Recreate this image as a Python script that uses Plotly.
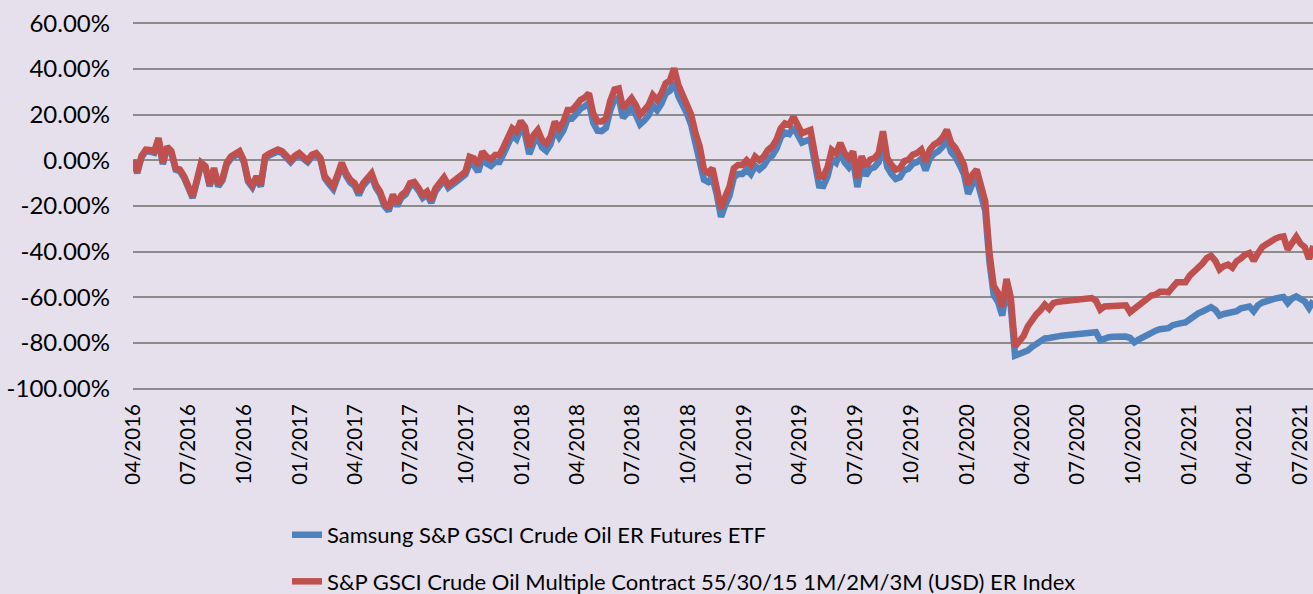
import pandas as pd
import plotly.graph_objects as go

# Weekly observations starting 2016-04-01 (cumulative return, %)
start_date = "2016-04-01"

index_er = [
    0, -5, 2, 4.7, 4.5, 4, 9.8, -1, 6, 4,
    -3.4, -4, -7, -11, -15.8, -8.5, -1, -2.6, -10.7, -3.4,
    -10.7, -8, -1, 1.7, 2.5, 4, 0, -8.5, -11, -7,
    -10.7, 1.7, 3, 4, 4.7, 4, 1.5, 0, 2, 3.2,
    1.5, 0, 2.5, 3.2, 1, -7, -9.2, -11.4, -6.3, -1,
    -5.5, -8.5, -10, -14, -10, -7.5, -5.7, -10.8, -13.7, -18.8,
    -21, -15, -18.8, -15.2, -13.7, -10, -9.5, -12, -15.2, -13.7,
    -17.4, -12.3, -10, -7.5, -10.8, -9, -8, -6.5, -5, 1.6,
    0.9, -2, 3.8, 1.6, 0.5, 2.3, 2.3, 6, 9.6, 14,
    12.6, 17.2, 14.7, 6, 11, 13.3, 8.9, 7.4, 10.4, 16.9,
    14, 16.9, 22, 22, 24, 26.4, 27.5, 29.3, 20.6, 17,
    17, 18.4, 26, 31, 31.5, 22.8, 25, 27.2, 24.2, 20,
    22, 24.2, 28.6, 26.4, 29.3, 33.7, 35, 40.3, 33, 29,
    25, 20, 12, 6, -4.2, -5.5, -3.5, -11, -21, -15.9,
    -11.5, -3.5, -2, -2, 0, -2, 1.6, 0, 1.6, 4.5,
    6, 9, 14, 16.2, 15.5, 19.1, 14.7, 11.8, 12.6, 13.3,
    3, -7, -7.2, -3, 4.5, 3, 7.6, 3.2, 1, 3.9,
    -7.7, 1.8, -2.6, 0.3, 1, 3.2, 12.7, 1, -2, -4.1,
    -3.4, -0.4, 0.3, 2.5, 3.2, 4.7, -0.4, 4.7, 6.9, 8,
    10, 13.4, 7.6, 5.5, 2, -2, -10.7, -6.3, -4.1, -9.9,
    -18, -40.6, -55, -58, -64, -52, -60, -81.5, -79, -77,
    -72.7, -69.5, -67.5, -65.6, -63.2, -65, -62.5, -62, -61.8, -61.7,
    -61.3, -61, -60.8, -60.6, -60.5, -60.3, -61.5, -65.4, -64, -63.8,
    -63.6, -63.3, -63, -63.5, -66.5, -65, -63.5, -62.5, -60.5, -59.2,
    -58.8, -57.6, -57.6, -57.8, -55.5, -53.4, -53.4, -53.4, -50.5, -48.8,
    -47.2, -45.2, -42.8, -41.8, -44, -47.8, -46.3, -45.7, -47, -44.2,
    -43, -41.3, -40.6, -44, -40.8, -38, -36.8, -35.3, -34.4, -33.6,
    -33.3, -39, -36.2, -33.5, -36.5, -38, -43.2, -37.5,
]

etf = [
    0, -5.6, 1.3, 4, 3.8, 3.3, 9.1, -1.7, 5.3, 3.3,
    -4.1, -4.7, -7.7, -11.7, -16.5, -9.2, -1.7, -3.3, -11.4, -4.1,
    -11.4, -8.8, -1.8, 0.9, 1.7, 3.2, -0.8, -9.3, -11.8, -7.8,
    -11.5, 0.9, 2.2, 3.2, 3.9, 3.2, 0.7, -0.8, 1.2, 2.4,
    0.7, -0.8, 1.7, 2.4, 0.2, -7.8, -10.4, -12.6, -7.5, -2.2,
    -6.7, -9.7, -11.2, -15.2, -11.2, -8.7, -6.9, -12, -14.9, -20,
    -22.2, -16.2, -20, -16.4, -14.9, -11.2, -10.7, -13.2, -16.4, -14.9,
    -18.6, -13.5, -11.2, -8.7, -12, -10.2, -9.2, -7.7, -6.2, -1.4,
    -2.1, -5, 0.8, -1.4, -2.5, -0.7, -0.7, 3, 6.6, 11,
    9.3, 13.9, 11.4, 2.7, 7.7, 10, 5.6, 4.1, 7.1, 13.6,
    10.2, 13.1, 18.2, 18.2, 20.2, 22.6, 23.7, 25.2, 16.5, 13,
    12.8, 14.2, 21.8, 26.8, 27.3, 18.6, 20.8, 23, 20, 15.8,
    17.5, 19.7, 24.1, 21.9, 24.8, 29.2, 30.5, 34.5, 28, 24.5,
    20.5, 15.5, 7.5, 1.5, -8.5, -9.5, -7.5, -15, -24.8, -19.5,
    -15.5, -7.5, -6, -6, -4, -6, -2.4, -4, -2.4, 0.5,
    2, 5, 10, 12.2, 11.5, 14.6, 10.7, 7.8, 8.6, 9.3,
    -1, -11, -11.2, -7, 0.5, -1, 3.6, -0.8, -3, -0.1,
    -11.7, -2.2, -6.6, -3.7, -3, -0.8, 8, -3, -6, -8.1,
    -7.4, -4.4, -3.7, -1.5, -0.8, 0.7, -4.4, 0.7, 2.9, 4,
    6, 9.4, 3.6, 1.5, -2, -6, -14.7, -10.3, -8.1, -13.9,
    -22, -44.6, -59, -62, -68, -56, -64, -85.5, -85, -84.5,
    -83.3, -81.7, -80.2, -79, -78, -77.8, -77.3, -77.1, -76.8, -76.6,
    -76.4, -76.2, -76, -75.7, -75.4, -75.1, -75.3, -78.8, -77.8, -77.5,
    -77.3, -77.1, -77.1, -77.2, -77.8, -79.7, -78.5, -77.4, -76, -75,
    -74.6, -74, -73.8, -73.5, -72.2, -71.5, -71.3, -71, -69.5, -68.2,
    -67, -66.2, -65, -64.3, -65.5, -68, -67.3, -66.9, -66.5, -66.1,
    -64.8, -64.5, -64, -66.1, -63.5, -62.3, -61.5, -61, -60.6, -60.2,
    -59.9, -62.5, -60.5, -59.6, -60.5, -61.8, -64.7, -61.5,
]

series_names = [
    "Samsung S&P GSCI Crude Oil ER Futures ETF",
    "S&P GSCI Crude Oil Multiple Contract 55/30/15 1M/2M/3M (USD) ER Index",
]

y_tickvals = [60, 40, 20, 0, -20, -40, -60, -80, -100]
y_ticktext = ["60.00%", "40.00%", "20.00%", "0.00%", "-20.00%", "-40.00%",
              "-60.00%", "-80.00%", "-100.00%"]

dates = pd.date_range(start_date, periods=len(index_er), freq="7D")

BG = "#E5E0EC"
BLUE = "#4F81BD"
RED = "#C0504D"
FONT = "Lato"

fig = go.Figure()
fig.add_trace(go.Scatter(x=dates, y=etf, mode="lines", name=series_names[0],
                         line=dict(color=BLUE, width=6.5), legendgroup="a"))
fig.add_trace(go.Scatter(x=dates, y=index_er, mode="lines", name=series_names[1],
                         line=dict(color=RED, width=6.5), legendgroup="b"))

fig.update_layout(
    width=1313, height=594,
    margin=dict(l=133, r=0, t=21.63, b=203.63, autoexpand=False),
    paper_bgcolor=BG, plot_bgcolor=BG,
    font=dict(family=FONT, color="#000000", size=20),
    showlegend=True,
    legend=dict(
        xref="container", yref="container",
        x=0.2186, y=0.1348, xanchor="left", yanchor="top",
        bgcolor="rgba(0,0,0,0)",
        font=dict(family=FONT, size=22, color="#000000"),
        traceorder="grouped", tracegroupgap=15,
        itemwidth=30,
    ),
)

fig.update_xaxes(
    type="date",
    range=["2016-04-01", "2021-07-22 12:00"],
    tick0="2016-04-01", dtick="M3", tickformat="%m/%Y",
    tickangle=-90,
    showgrid=False, zeroline=False, showline=False,
    ticks="", ticklabelstandoff=9,
    tickfont=dict(family=FONT, size=20.5, color="#000000"),
)
fig.update_yaxes(
    range=[-100.6, 60.6],
    tickvals=y_tickvals, ticktext=y_ticktext,
    showgrid=True, gridcolor="#8C8C8C", gridwidth=1.8,
    zeroline=False, showline=False,
    ticks="", ticklabelstandoff=22,
    tickfont=dict(family=FONT, size=24, color="#000000"),
)

fig.write_html("out.html", config={"displayModeBar": False},
               post_script="document.body.style.margin='0px';")
